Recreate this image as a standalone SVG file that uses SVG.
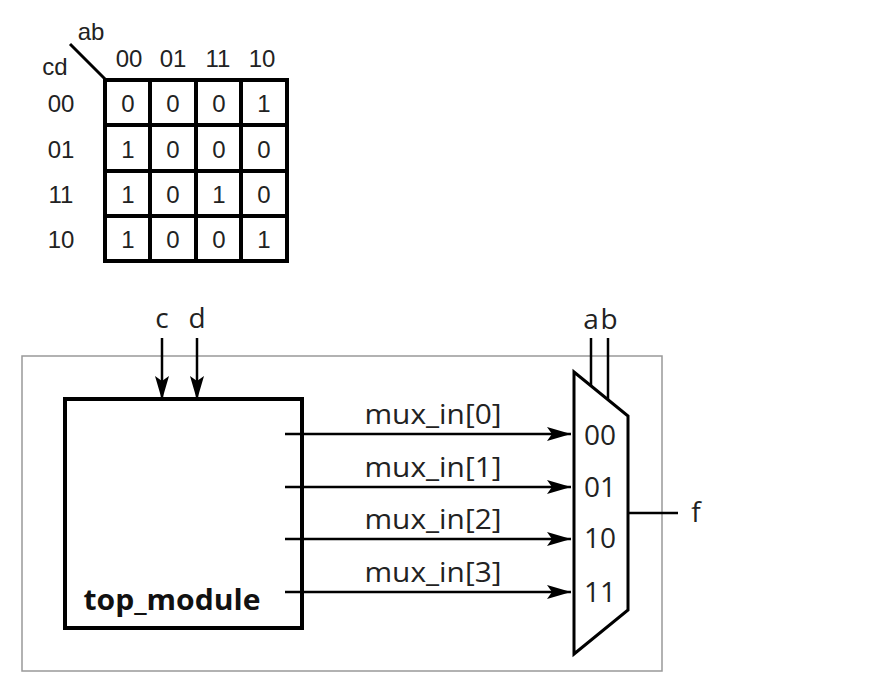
<svg xmlns="http://www.w3.org/2000/svg" width="895" height="688" viewBox="0 0 895 688">
<style>
.km{font-family:"Liberation Sans",Arial,sans-serif;font-size:24px;fill:#222;text-anchor:middle}
.lb{font-family:"Open Sans","DejaVu Sans",sans-serif;font-size:28px;fill:#222;text-anchor:middle}
.thick{fill:none;stroke:#000;stroke-width:4}
.wire{fill:none;stroke:#000;stroke-width:2.5}
</style>
<defs>
<marker id="arr" markerUnits="userSpaceOnUse" markerWidth="26" markerHeight="16" refX="24" refY="7" orient="auto">
<path d="M0,0 L24,7 L0,14 L5,7 z" fill="#000"/>
</marker>
</defs>
<rect width="895" height="688" fill="#fff"/>
<g id="kmap">
<line x1="70" y1="44" x2="106" y2="80" stroke="#000" stroke-width="3"/>
<text class="km" x="91" y="40">ab</text>
<text class="km" x="55" y="75">cd</text>
<text class="km" x="129" y="67">00</text>
<text class="km" x="173" y="67">01</text>
<text class="km" x="218" y="67">11</text>
<text class="km" x="262" y="67">10</text>
<text class="km" x="61" y="112">00</text>
<text class="km" x="61" y="158">01</text>
<text class="km" x="61" y="203">11</text>
<text class="km" x="61" y="248">10</text>
<rect x="105" y="80" width="182" height="181" class="thick"/>
<path d="M150,80V261M196,80V261M241,80V261M105,125H287M105,171H287M105,216H287" class="thick"/>
<text class="km" x="128" y="112">0</text><text class="km" x="173" y="112">0</text><text class="km" x="219" y="112">0</text><text class="km" x="264" y="112">1</text>
<text class="km" x="128" y="158">1</text><text class="km" x="173" y="158">0</text><text class="km" x="219" y="158">0</text><text class="km" x="264" y="158">0</text>
<text class="km" x="128" y="203">1</text><text class="km" x="173" y="203">0</text><text class="km" x="219" y="203">1</text><text class="km" x="264" y="203">0</text>
<text class="km" x="128" y="248">1</text><text class="km" x="173" y="248">0</text><text class="km" x="219" y="248">0</text><text class="km" x="264" y="248">1</text>
</g>
<g id="outer">
<rect x="22" y="356" width="640" height="315" fill="none" stroke="#999" stroke-width="1.5"/>
</g>
<g id="top_module">
<rect x="65" y="399" width="237" height="229" class="thick"/>
<text x="172" y="610" font-family="'Open Sans','DejaVu Sans',sans-serif" font-size="28" font-weight="bold" text-anchor="middle" fill="#111" textLength="177" lengthAdjust="spacingAndGlyphs">top_module</text>
</g>
<g id="mux">
<path d="M574,372 L628,416 L628,610 L574,654 Z" fill="none" stroke="#000" stroke-width="3"/>
<text class="lb" x="600" y="445">00</text>
<text class="lb" x="600" y="497">01</text>
<text class="lb" x="600" y="548">10</text>
<text class="lb" x="600" y="602">11</text>
</g>
<g id="labels">
<text class="lb" x="162" y="328">c</text>
<text class="lb" x="197" y="328">d</text>
<text class="lb" x="591" y="329">a</text>
<text class="lb" x="609" y="329">b</text>
<text class="lb" x="696" y="522">f</text>
<text class="lb" x="433" y="424" textLength="137" lengthAdjust="spacingAndGlyphs">mux_in[0]</text>
<text class="lb" x="433" y="477" textLength="137" lengthAdjust="spacingAndGlyphs">mux_in[1]</text>
<text class="lb" x="433" y="529" textLength="137" lengthAdjust="spacingAndGlyphs">mux_in[2]</text>
<text class="lb" x="433" y="582" textLength="137" lengthAdjust="spacingAndGlyphs">mux_in[3]</text>
</g>
<g id="connectors">
<line x1="162" y1="338" x2="162" y2="400" class="wire" marker-end="url(#arr)"/>
<line x1="197" y1="338" x2="197" y2="400" class="wire" marker-end="url(#arr)"/>
<line x1="285" y1="434" x2="571" y2="434" class="wire" marker-end="url(#arr)"/>
<line x1="285" y1="487" x2="571" y2="487" class="wire" marker-end="url(#arr)"/>
<line x1="285" y1="539" x2="571" y2="539" class="wire" marker-end="url(#arr)"/>
<line x1="285" y1="592" x2="571" y2="592" class="wire" marker-end="url(#arr)"/>
<line x1="591" y1="338" x2="591" y2="386" class="wire"/>
<line x1="608" y1="338" x2="608" y2="400" class="wire"/>
<line x1="628" y1="513" x2="678" y2="513" class="wire"/>
</g>
</svg>
